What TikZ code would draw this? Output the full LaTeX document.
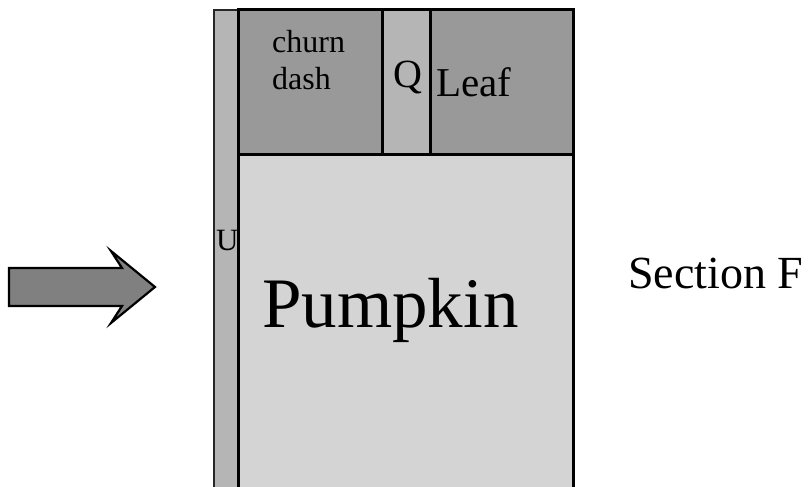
\documentclass[tikz,border=0pt]{standalone}
\usepackage{fontspec}
\setmainfont{Liberation Serif}
\usetikzlibrary{positioning}
\definecolor{topgray}{gray}{0.6}
\definecolor{stripgray}{gray}{0.71}
\definecolor{bodygray}{gray}{0.83}
\definecolor{arrowgray}{gray}{0.5}

\begin{document}
\begin{tikzpicture}
    [x=1pt,y=-1pt,line join=miter,
     lbl/.style={inner sep=0pt, anchor=base west},
     box/.style={line width=3pt}]
  \useasboundingbox (0,0) rectangle (812,487);
  % strip at the left
  \filldraw[fill=stripgray, draw=black!85, line width=1.8pt] (214,487) -- (214,10) -- (238,10) -- (238,487);
  % top row
  \filldraw[box, fill=topgray] (238,10) rectangle (382,154);
  \filldraw[box, fill=stripgray] (382,10) rectangle (430,154);
  \filldraw[box, fill=topgray] (430,10) rectangle (573,154);
  % main box
  \fill[bodygray] (238,154) rectangle (573,487);
  \draw[box] (238,487) -- (238,154) -- (573,154) -- (573,487);
  % arrow
  \filldraw[fill=arrowgray, line width=2.2pt] (9,268) -- (122,268) -- (111,251) -- (155,287) -- (111,323) -- (122,306) -- (9,306) -- cycle;

  \node[lbl, font=\fontsize{32}{36}\selectfont] (churn) at (272,53) {churn};
  \node[lbl, font=\fontsize{32}{36}\selectfont] (dash) at (272,90) {dash};
  \node[lbl, font=\fontsize{40}{48}\selectfont] (q) at (393,88) {Q};
  \node[lbl, font=\fontsize{41}{48}\selectfont] (leaf) at (436,96) {Leaf};
  \node[lbl, font=\fontsize{31}{36}\selectfont] (u) at (216,250) {U};
  \node[lbl, font=\fontsize{71}{84}\selectfont] (pumpkin) at (262,327) {Pumpkin};
  \node[lbl, font=\fontsize{46}{54}\selectfont] (section) at (628,288) {Section F};
\end{tikzpicture}
\end{document}
